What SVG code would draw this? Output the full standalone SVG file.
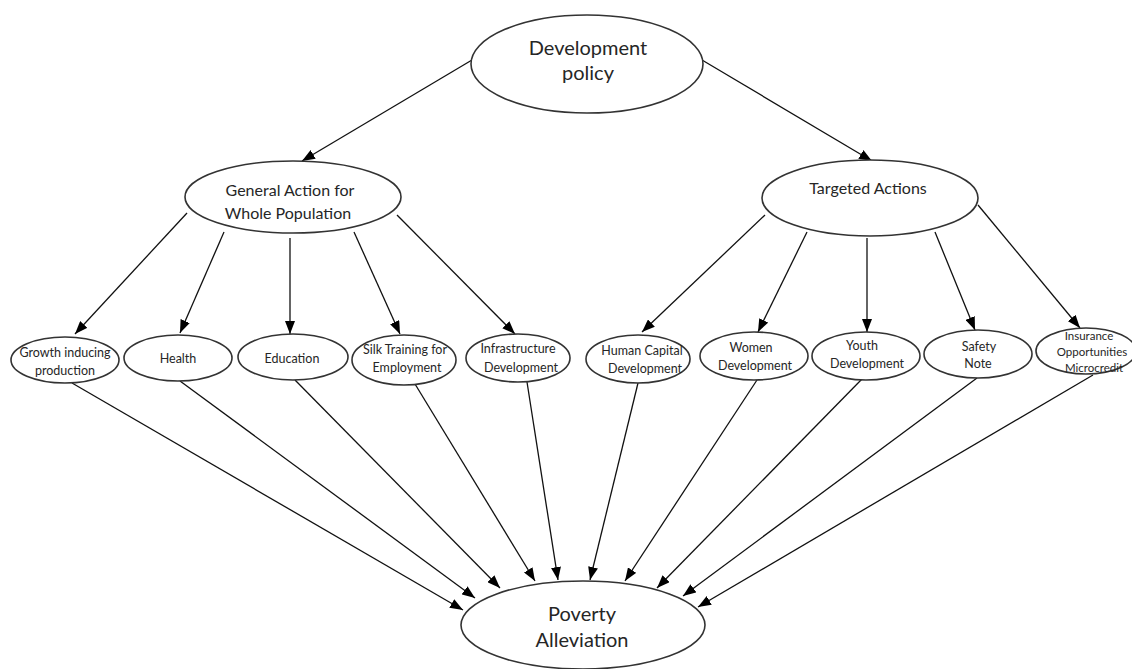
<svg xmlns="http://www.w3.org/2000/svg" width="1132" height="669" viewBox="0 0 1132 669">
<style>
.n{fill:#fff;stroke:#333;stroke-width:1.6}
.t{font-family:Lato,"Liberation Sans",sans-serif;fill:#262626;text-anchor:middle}
.big{font-size:20px}
.mid{font-size:16px}
.sm{font-size:12.5px}
.xs{font-size:11.5px}
.c{stroke:#111;stroke-width:1.3;fill:none;marker-end:url(#ah)}
</style>
<defs>
<marker id="ah" markerUnits="userSpaceOnUse" markerWidth="13" markerHeight="10" refX="13" refY="5" orient="auto">
<path d="M0,0 L13,5 L0,10 z" fill="#000"/>
</marker>
</defs>
<rect width="1132" height="669" fill="#fff"/>
<g id="connectors">
<line class="c" x1="472" y1="60" x2="302" y2="161"/>
<line class="c" x1="702" y1="60" x2="872" y2="161"/>
<line class="c" x1="187" y1="213" x2="75" y2="334"/>
<line class="c" x1="224" y1="232" x2="180" y2="333"/>
<line class="c" x1="290" y1="238" x2="290" y2="334"/>
<line class="c" x1="354" y1="232" x2="400" y2="334"/>
<line class="c" x1="397" y1="215" x2="515" y2="334"/>
<line class="c" x1="765" y1="215" x2="642" y2="332"/>
<line class="c" x1="807" y1="232" x2="758" y2="332"/>
<line class="c" x1="867" y1="238" x2="867" y2="332"/>
<line class="c" x1="935" y1="232" x2="975" y2="330"/>
<line class="c" x1="978" y1="205" x2="1080" y2="328"/>
<line class="c" x1="72" y1="383" x2="463" y2="610"/>
<line class="c" x1="180" y1="381" x2="475" y2="598"/>
<line class="c" x1="295" y1="380" x2="500" y2="588"/>
<line class="c" x1="415" y1="384" x2="535" y2="581"/>
<line class="c" x1="527" y1="382" x2="558" y2="580"/>
<line class="c" x1="638" y1="383" x2="590" y2="580"/>
<line class="c" x1="757" y1="380" x2="625" y2="581"/>
<line class="c" x1="862" y1="379" x2="657" y2="588"/>
<line class="c" x1="977" y1="378" x2="683" y2="596"/>
<line class="c" x1="1093" y1="375" x2="698" y2="607"/>
</g>
<g id="development-policy">
<ellipse class="n" cx="587" cy="64" rx="116" ry="49"/>
<text class="t big" x="588" y="55">Development</text>
<text class="t big" x="588" y="80">policy</text>
</g>
<g id="general-action">
<ellipse class="n" cx="293" cy="197" rx="108" ry="36"/>
<text class="t mid" x="290" y="196">General Action for</text>
<text class="t mid" x="288" y="219">Whole Population</text>
</g>
<g id="targeted-actions">
<ellipse class="n" cx="870" cy="198" rx="108" ry="38"/>
<text class="t mid" x="868" y="194">Targeted Actions</text>
</g>
<g id="poverty-alleviation">
<ellipse class="n" cx="583" cy="625" rx="122" ry="44"/>
<text class="t big" x="582" y="621">Poverty</text>
<text class="t big" x="582" y="647">Alleviation</text>
</g>
<g id="growth">
<ellipse class="n" cx="65" cy="360" rx="54" ry="23"/>
<text class="t sm" x="65" y="357">Growth inducing</text>
<text class="t sm" x="65" y="375">production</text>
</g>
<g id="health">
<ellipse class="n" cx="178" cy="358" rx="54" ry="23"/>
<text class="t sm" x="178" y="363">Health</text>
</g>
<g id="education">
<ellipse class="n" cx="293" cy="357" rx="55" ry="23"/>
<text class="t sm" x="292" y="363">Education</text>
</g>
<g id="silk-training">
<ellipse class="n" cx="404" cy="360" rx="52" ry="25"/>
<text class="t sm" x="405" y="354">Silk Training for</text>
<text class="t sm" x="407" y="372">Employment</text>
</g>
<g id="infrastructure">
<ellipse class="n" cx="518" cy="358" rx="52" ry="24"/>
<text class="t sm" x="518" y="353">Infrastructure</text>
<text class="t sm" x="521" y="372">Development</text>
</g>
<g id="human-capital">
<ellipse class="n" cx="638" cy="359" rx="52" ry="24"/>
<text class="t sm" x="642" y="355">Human Capital</text>
<text class="t sm" x="645" y="373">Development</text>
</g>
<g id="women">
<ellipse class="n" cx="754" cy="356" rx="54" ry="24"/>
<text class="t sm" x="751" y="352">Women</text>
<text class="t sm" x="755" y="370">Development</text>
</g>
<g id="youth">
<ellipse class="n" cx="866" cy="356" rx="54" ry="24"/>
<text class="t sm" x="862" y="350">Youth</text>
<text class="t sm" x="867" y="368">Development</text>
</g>
<g id="safety">
<ellipse class="n" cx="978" cy="354" rx="54" ry="24"/>
<text class="t sm" x="979" y="351">Safety</text>
<text class="t sm" x="978" y="368">Note</text>
</g>
<g id="insurance">
<ellipse class="n" cx="1086" cy="351" rx="50" ry="23"/>
<text class="t xs" x="1089" y="340">Insurance</text>
<text class="t xs" x="1092" y="356">Opportunities</text>
<text class="t xs" x="1094" y="372">Microcredit</text>
</g>
</svg>
